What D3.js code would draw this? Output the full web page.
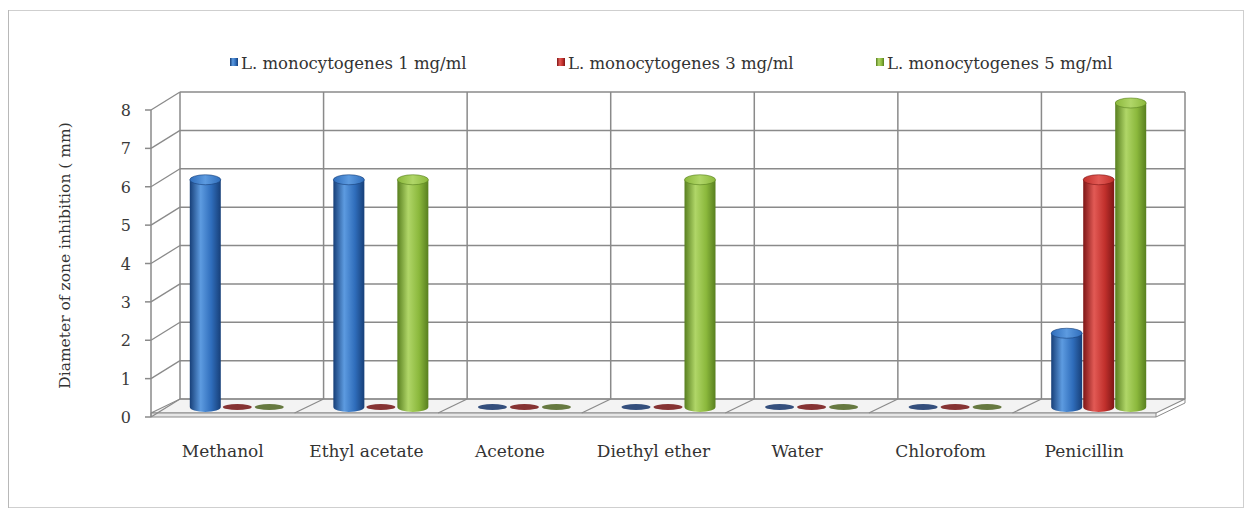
<!DOCTYPE html>
<html><head><meta charset="utf-8">
<script src="https://cdn.jsdelivr.net/npm/d3@7"></script>
<style>body{margin:0;background:#fff}svg{display:block}</style>
</head><body>
<svg id="c" width="1251" height="513"></svg>
<script>
const categories = ["Methanol","Ethyl acetate","Acetone","Diethyl ether","Water","Chlorofom","Penicillin"];
const seriesNames = ["L. monocytogenes 1 mg/ml","L. monocytogenes 3 mg/ml","L. monocytogenes 5 mg/ml"];
const conc1 = [6,6,0,0,0,0,2];
const conc3 = [0,0,0,0,0,0,6];
const conc5 = [0,6,0,6,0,0,8];
const yTicks = [0,1,2,3,4,5,6,7,8];
const yTitle = "Diameter of zone inhibition ( mm)";

const seriesVals = [conc1, conc3, conc5];
const colors = [
  {base:"#2f6dbb", dark:"#173f78", light:"#5d9be0", zero:"#1f3d70"},
  {base:"#c1302c", dark:"#7e1616", light:"#e25a55", zero:"#7a1e1e"},
  {base:"#8bb83c", dark:"#587f1f", light:"#b0d668", zero:"#566b2c"}
];

const svg = d3.select("#c");
const defs = svg.append("defs");
colors.forEach((c,i)=>{
  const g = defs.append("linearGradient").attr("id","cyl"+i).attr("x1","0").attr("x2","1").attr("y1","0").attr("y2","0");
  g.append("stop").attr("offset","0").attr("stop-color",c.dark);
  g.append("stop").attr("offset","0.35").attr("stop-color",c.light);
  g.append("stop").attr("offset","0.7").attr("stop-color",c.base);
  g.append("stop").attr("offset","1").attr("stop-color",c.dark);
  const t = defs.append("linearGradient").attr("id","top"+i).attr("x1","0").attr("x2","1");
  t.append("stop").attr("offset","0").attr("stop-color",c.base);
  t.append("stop").attr("offset","0.5").attr("stop-color",c.light);
  t.append("stop").attr("offset","1").attr("stop-color",c.base);
});

// outer frame
svg.append("rect").attr("x",8.5).attr("y",10.5).attr("width",1235).attr("height",497)
  .attr("fill","none").attr("stroke","#cfcfcf").attr("stroke-width",1);
svg.append("line").attr("x1",8.5).attr("x2",8.5).attr("y1",10).attr("y2",508).attr("stroke","#b8b8b8");

// geometry
const backLeft = 180, backRight = 1185, backTop = 92, backZero = 399;
const dx = -29, dy = 18;
const x = d3.scaleBand().domain(categories).range([backLeft, backRight]).padding(0);
const y = d3.scaleLinear().domain([0,8]).range([backZero, backTop]);
const gridColor = "#8a8a8a";

// floor
const fl = svg.append("g");
fl.append("path").attr("d",`M${backLeft},${backZero}L${backRight},${backZero}L${backRight+dx},${backZero+dy-4}L${backLeft+dx},${backZero+dy-4}Z`)
  .attr("fill","#f3f3f3").attr("stroke",gridColor).attr("stroke-width",1.2);
fl.append("path").attr("d",`M${backLeft+dx},${backZero+dy-4}L${backRight+dx},${backZero+dy-4}L${backRight+dx},${backZero+dy}L${backLeft+dx},${backZero+dy}Z`)
  .attr("fill","#e6e6e6").attr("stroke",gridColor).attr("stroke-width",1);
fl.append("line").attr("x1",backRight).attr("x2",backRight).attr("y1",backZero).attr("y2",backZero+4).attr("stroke",gridColor);
fl.append("line").attr("x1",backRight).attr("x2",backRight+dx).attr("y1",backZero+4).attr("y2",backZero+dy).attr("stroke",gridColor);

// back wall horizontal grid
svg.append("g").selectAll("line").data(yTicks).join("line")
  .attr("x1",backLeft).attr("x2",backRight).attr("y1",d=>y(d)).attr("y2",d=>y(d))
  .attr("stroke",gridColor).attr("stroke-width",1.5);
// back wall vertical dividers
const bounds = categories.map(c=>x(c)).concat([backRight]);
svg.append("g").selectAll("line").data(bounds).join("line")
  .attr("x1",d=>d).attr("x2",d=>d).attr("y1",backTop).attr("y2",backZero)
  .attr("stroke",gridColor).attr("stroke-width",1.5);
// floor dividers
svg.append("g").selectAll("line").data(bounds.slice(1,-1)).join("line")
  .attr("x1",d=>d).attr("x2",d=>d+dx).attr("y1",backZero).attr("y2",backZero+dy-4)
  .attr("stroke",gridColor).attr("stroke-width",1.2);
// side wall diagonals
svg.append("g").selectAll("line").data(yTicks).join("line")
  .attr("x1",backLeft).attr("x2",backLeft+dx).attr("y1",d=>y(d)).attr("y2",d=>y(d)+dy)
  .attr("stroke",gridColor).attr("stroke-width",1.3);
// front vertical axis
svg.append("line").attr("x1",backLeft+dx).attr("x2",backLeft+dx).attr("y1",y(8)+dy).attr("y2",y(0)+dy)
  .attr("stroke",gridColor).attr("stroke-width",1.5);
// tick marks + labels
const tk = svg.append("g").selectAll("g").data(yTicks).join("g");
tk.append("line").attr("x1",backLeft+dx-6).attr("x2",backLeft+dx).attr("y1",d=>y(d)+dy).attr("y2",d=>y(d)+dy)
  .attr("stroke",gridColor).attr("stroke-width",1.5);
tk.append("text").attr("x",131).attr("y",d=>y(d)+dy+6).attr("text-anchor","end")
  .attr("font-family","DejaVu Serif").attr("font-size",16).attr("fill","#3a3a3a").text(d=>d);

// y title
svg.append("text").attr("transform",`translate(70,${(y(8)+y(0))/2+dy-8}) rotate(-90)`)
  .attr("text-anchor","middle").attr("font-family","DejaVu Serif").attr("font-size",15.5).attr("fill","#333")
  .text(yTitle);

// bars (cylinders) at mid depth
const mdx = dx/2, mdy = 11;
const inner = d3.scaleBand().domain(d3.range(seriesVals.length)).range([0, 96]);
const bw = inner.bandwidth();
const ry = 5;
const barsG = svg.append("g");
categories.forEach((cat,ci)=>{
  const cx0 = x(cat) + x.bandwidth()/2 + mdx - 48;
  seriesVals.forEach((vals,si)=>{
    const v = vals[ci];
    const left = cx0 + inner(si) + 0.5;
    const w = bw - 1;
    const cxm = left + w/2;
    const yb = y(0) + mdy - 3;
    if (v === 0) {
      barsG.append("ellipse").attr("cx",cxm).attr("cy",yb).attr("rx",w/2-1).attr("ry",3)
        .attr("fill",colors[si].zero).attr("opacity",0.9);
      return;
    }
    const yt = y(v) + mdy;
    barsG.append("path")
      .attr("d",`M${left},${yt}L${left},${yb}A${w/2},${ry} 0 0 0 ${left+w},${yb}L${left+w},${yt}Z`)
      .attr("fill",`url(#cyl${si})`);
    barsG.append("ellipse").attr("cx",cxm).attr("cy",yt).attr("rx",w/2).attr("ry",ry)
      .attr("fill",`url(#top${si})`).attr("stroke",colors[si].dark).attr("stroke-width",0.6);
  });
});

// category labels
svg.append("g").selectAll("text").data(categories).join("text")
  .attr("x",d=>x(d)+x.bandwidth()/2+dx).attr("y",457).attr("text-anchor","middle")
  .attr("font-family","DejaVu Serif").attr("font-size",17).attr("fill","#333").text(d=>d);

// legend
const legX = [230, 557, 876];
const lg = svg.append("g").selectAll("g").data(seriesNames).join("g")
  .attr("transform",(d,i)=>`translate(${legX[i]},0)`);
lg.append("rect").attr("x",0).attr("y",58).attr("width",8).attr("height",8)
  .attr("fill",(d,i)=>`url(#cyl${i})`);
lg.append("text").attr("x",11).attr("y",69).attr("font-family","DejaVu Serif").attr("font-size",16.5)
  .attr("fill","#333").text(d=>d);
</script>
</body></html>
